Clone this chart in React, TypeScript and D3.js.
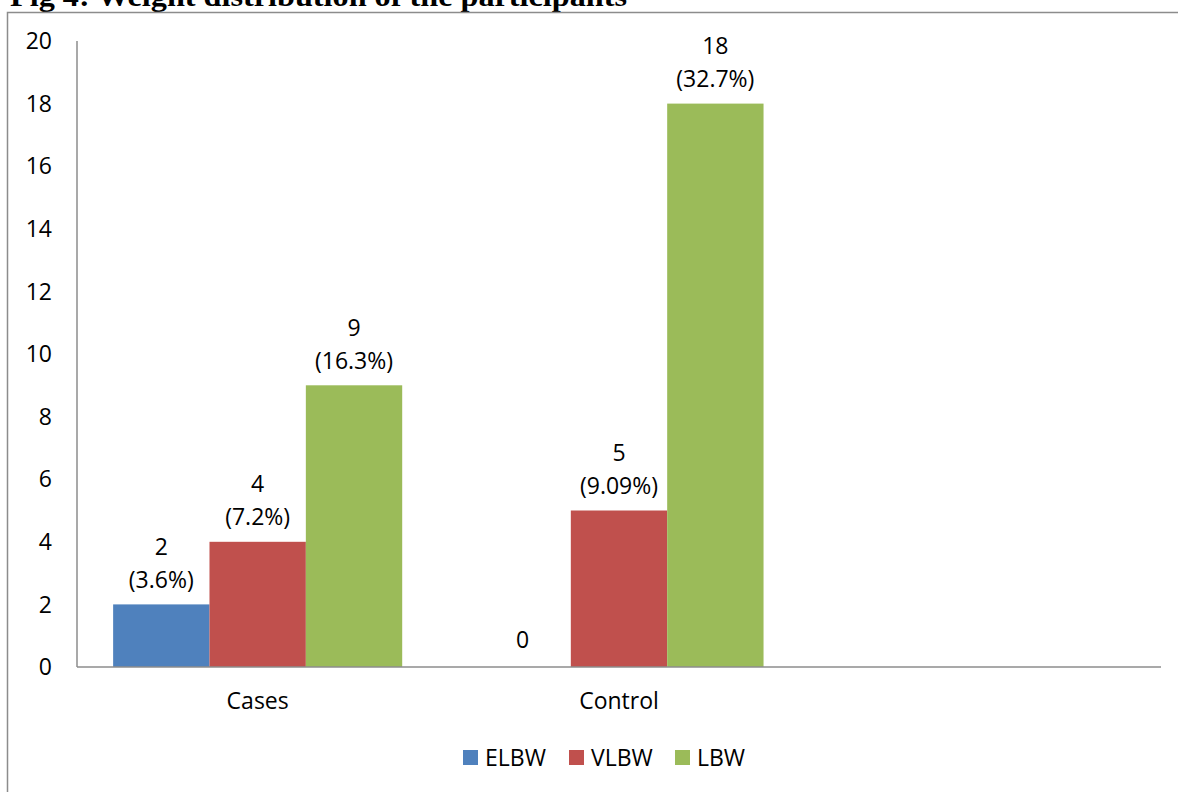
import React from "react";
import * as d3 from "d3";

const categories = ["Cases", "Control", ""];
const seriesNames = ["ELBW", "VLBW", "LBW"];
const seriesColors = ["#4F81BD", "#C0504D", "#9BBB59"];
// counts per series, one value per category (the third category is empty)
const elbwValues = [2, 0, null];
const vlbwValues = [4, 5, null];
const lbwValues = [9, 18, null];
const elbwPercents = ["(3.6%)", "", ""];
const vlbwPercents = ["(7.2%)", "(9.09%)", ""];
const lbwPercents = ["(16.3%)", "(32.7%)", ""];
const yTicks = [0, 2, 4, 6, 8, 10, 12, 14, 16, 18, 20];
const titleText = "Fig 4: Weight distribution of the participants";

const W = 1178;
const H = 792;
const font = "'Open Sans', 'Noto Sans', sans-serif";

export default function App() {
  const series = [
    { name: seriesNames[0], color: seriesColors[0], values: elbwValues, pct: elbwPercents },
    { name: seriesNames[1], color: seriesColors[1], values: vlbwValues, pct: vlbwPercents },
    { name: seriesNames[2], color: seriesColors[2], values: lbwValues, pct: lbwPercents },
  ];

  const left = 77;
  const right = 1161;
  const top = 41;
  const bottom = 667;

  const x0 = d3.scaleBand<string>().domain(categories.map((c, i) => String(i))).range([left, right]).padding(0);
  const x1 = d3
    .scaleBand<string>()
    .domain(seriesNames)
    .range([0, x0.bandwidth()])
    .paddingInner(0)
    .paddingOuter(0.375);
  const y = d3.scaleLinear().domain([0, 20]).range([bottom, top]);

  const fs = 23;

  return (
    <svg
      width={W}
      height={H}
      style={{ position: "absolute", left: 0, top: 0, background: "#fff" }}
    >
      <rect x={0} y={0} width={W} height={H} fill="#fff" />
      <text
        x={10}
        y={6}
        fontFamily="'Liberation Serif', 'Times New Roman', serif"
        fontWeight="bold"
        fontSize={30}
        textLength={617}
        lengthAdjust="spacingAndGlyphs"
        fill="#000"
      >
        {titleText}
      </text>
      <rect x={7.5} y={12.5} width={W + 20} height={H + 20} fill="none" stroke="#8c8c8c" strokeWidth={1.5} />

      {/* y tick labels */}
      {yTicks.map((t) => (
        <text
          key={t}
          x={52}
          y={y(t)}
          dy="0.36em"
          textAnchor="end"
          fontFamily={font}
          fontSize={fs}
          fill="#000"
        >
          {t}
        </text>
      ))}

      {/* bars */}
      {series.map((s) =>
        s.values.map((v, ci) => {
          if (v === null) return null;
          const bx = (x0(String(ci)) as number) + (x1(s.name) as number);
          const bw = x1.bandwidth();
          const cx = bx + bw / 2;
          const yTop = y(v);
          return (
            <g key={s.name + ci}>
              {v > 0 && <rect x={bx} y={yTop} width={bw} height={bottom - yTop} fill={s.color} />}
              {s.pct[ci] ? (
                <>
                  <text x={cx} y={yTop - 58} dy="0.36em" textAnchor="middle" fontFamily={font} fontSize={fs} fill="#000">
                    {v}
                  </text>
                  <text x={cx} y={yTop - 25} dy="0.36em" textAnchor="middle" fontFamily={font} fontSize={fs} fill="#000">
                    {s.pct[ci]}
                  </text>
                </>
              ) : (
                <text x={cx} y={yTop - 27} dy="0.36em" textAnchor="middle" fontFamily={font} fontSize={fs} fill="#000">
                  {v}
                </text>
              )}
            </g>
          );
        })
      )}

      {/* axes */}
      <line x1={left} x2={left} y1={top} y2={bottom} stroke="#8c8c8c" strokeWidth={1.5} />
      <line x1={left} x2={right} y1={bottom} y2={bottom} stroke="#8c8c8c" strokeWidth={1.5} />

      {/* category labels */}
      {categories.map((c, i) => (
        <text
          key={i}
          x={(x0(String(i)) as number) + x0.bandwidth() / 2}
          y={701}
          dy="0.36em"
          textAnchor="middle"
          fontFamily={font}
          fontSize={fs}
          fill="#000"
        >
          {c}
        </text>
      ))}

      {/* legend */}
      {series.map((s, i) => {
        const lx = 463 + i * 106;
        return (
          <g key={s.name}>
            <rect x={lx} y={750} width={15} height={15} fill={s.color} />
            <text x={lx + 22} y={757.5} dy="0.36em" fontFamily={font} fontSize={fs} fill="#000">
              {s.name}
            </text>
          </g>
        );
      })}
    </svg>
  );
}
